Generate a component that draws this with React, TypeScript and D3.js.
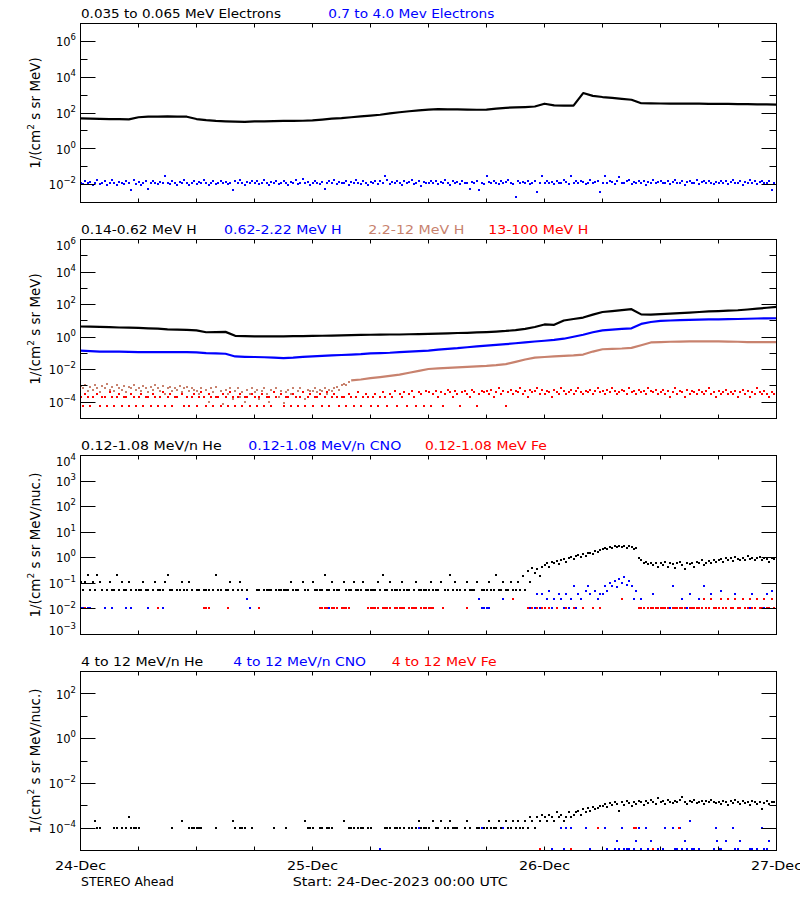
import React from "react";
import * as d3 from "d3";

const _ = null;

// ---------- time grids (hours since 24-Dec-2023 00:00 UTC) ----------
const HOURLY = d3.range(0, 73);
const QUARTER = d3.range(0, 289).map((i) => i / 4);

// ---------- text ----------
const DAY_LABELS = ["24-Dec", "25-Dec", "26-Dec", "27-Dec"];
const DAY_HOURS = [0, 24, 48, 72];
const FOOT_LEFT = "STEREO Ahead";
const FOOT_START = "Start: 24-Dec-2023 00:00 UTC";
const YTITLE_MEV = "MeV)";
const YTITLE_NUC = "MeV/nuc.)";
const P1_TITLES = ["0.035 to 0.065 MeV Electrons", "0.7 to 4.0 Mev Electrons"];
const P2_TITLES = ["0.14-0.62 MeV H", "0.62-2.22 MeV H", "2.2-12 MeV H", "13-100 MeV H"];
const P3_TITLES = ["0.12-1.08 MeV/n He", "0.12-1.08 MeV/n CNO", "0.12-1.08 MeV Fe"];
const P4_TITLES = ["4 to 12 MeV/n He", "4 to 12 MeV/n CNO", "4 to 12 MeV Fe"];

// ---------- panel 1: electrons ----------
const E_LOW = [
  50, 48, 47, 46, 45, 44, 58, 62, 63, 64, 62, 62,
  46, 40, 36, 34, 33, 32, 34, 34, 35, 36, 36, 37,
  39, 43, 48, 52, 58, 65, 72, 80, 95, 110, 125, 140,
  155, 165, 160, 158, 155, 152, 155, 175, 195, 205, 215, 230,
  330, 265, 260, 258, 1300, 900, 780, 700, 620, 550, 350, 345,
  340, 335, 330, 330, 330, 325, 325, 320, 315, 310, 305, 300,
  295,
];
const E_HIGH = [
  .013,.011,.016,.012,.014,.010,.012,.018,.011,.013,.015,.010,.012,.017,.013,.009,.014,.012,.011,.016,.013,.005,.019,.011,
  .014,.010,.013,.015,.006,.012,.016,.013,.011,.014,.012,.030,.013,.011,.015,.012,.009,.014,.013,.017,.012,.010,.013,.015,
  .011,.014,.012,.018,.013,.009,.012,.015,.011,.013,.016,.012,.014,.011,.013,.005,.015,.012,.017,.013,.010,.014,.012,.016,
  .012,.015,.011,.013,.019,.012,.010,.014,.013,.016,.011,.013,.015,.012,.009,.014,.013,.017,.011,.013,.020,.012,.014,.010,
  .013,.016,.012,.011,.014,.006,.013,.015,.012,.018,.011,.014,.012,.013,.016,.010,.014,.012,.017,.013,.011,.015,.012,.009,
  .014,.013,.016,.011,.015,.012,.030,.019,.011,.014,.012,.016,.013,.010,.015,.012,.014,.017,.011,.013,.015,.008,.014,.012,
  .013,.015,.012,.016,.011,.014,.013,.017,.012,.010,.015,.013,.014,.011,.016,.012,.013,.006,.014,.012,.015,.005,.013,.011,
  .030,.014,.012,.016,.013,.011,.015,.012,.014,.017,.013,.011,.002,.015,.012,.014,.013,.016,.011,.013,.015,.004,.012,.029,
  .013,.016,.012,.014,.011,.015,.013,.012,.017,.014,.011,.030,.013,.015,.012,.016,.014,.011,.013,.018,.012,.014,.016,.004,
  .013,.029,.012,.015,.014,.011,.016,.028,.013,.012,.015,.017,.011,.014,.013,.016,.012,.015,.010,.014,.013,.017,.012,.014,
  .015,.012,.013,.016,.011,.014,.018,.012,.013,.015,.010,.014,.016,.012,.013,.017,.011,.014,.015,.012,.016,.013,.011,.014,
  .012,.016,.013,.015,.011,.014,.017,.012,.013,.016,.010,.014,.013,.018,.012,.015,.011,.014,.016,.013,.012,.015,.005,.013,
  .014,
];

// ---------- panel 2: protons ----------
const H_LOW = [
  4.5, 4.4, 4.3, 4.1, 3.9, 3.8, 3.7, 3.5, 3.3, 3.0, 2.9, 2.8,
  2.6, 2.0, 2.05, 2.1, 1.2, 1.15, 1.12, 1.1, 1.1, 1.12, 1.15, 1.15,
  1.2, 1.22, 1.25, 1.3, 1.32, 1.38, 1.4, 1.43, 1.45, 1.45, 1.5, 1.55,
  1.6, 1.65, 1.7, 1.8, 1.85, 1.95, 2.05, 2.2, 2.4, 2.7, 3.2, 4.2,
  6, 5.7, 10.5, 13, 16, 24, 35, 40, 46, 52, 25, 24,
  26, 28, 30, 32, 35, 38, 40, 42, 45, 50, 56, 64,
  72,
];
const H_MID = [
  0.15, 0.14, 0.13, 0.13, 0.13, 0.125, 0.12, 0.12, 0.12, 0.12, 0.12, 0.12,
  0.115, 0.105, 0.1, 0.095, 0.065, 0.062, 0.06, 0.058, 0.055, 0.052, 0.055, 0.062,
  0.066, 0.07, 0.075, 0.08, 0.085, 0.09, 0.1, 0.105, 0.11, 0.12, 0.13, 0.14,
  0.15, 0.17, 0.19, 0.21, 0.24, 0.27, 0.3, 0.33, 0.37, 0.42, 0.48, 0.54,
  0.6, 0.68, 0.8, 1.05, 1.4, 2.0, 2.6, 2.9, 3.2, 3.5, 6.5, 8.5,
  10, 10.5, 11, 11.5, 12, 12.2, 12.5, 12.8, 13, 13.5, 14, 14.2,
  14.5,
];
const H_HIGH_LINE = [
  _, _, _, _, _, _, _, _, _, _, _, _,
  _, _, _, _, _, _, _, _, _, _, _, _,
  _, _, _, _, 2.2e-3, 2.5e-3, 3e-3, 3.5e-3, 4.2e-3, 5e-3, 6.5e-3, 8.5e-3,
  .011, .012, .013, .014, .015, .016, .017, .019, .022, .03, .042, .055,
  .06, .065, .07, .075, .085, .13, .18, .19, .2, .22, .32, .47,
  .5, .52, .53, .55, .55, .55, .55, .53, .52, .5, .5, .5,
  .5,
];
const H_HIGH_DOTS = [
  1e-3,7e-4,1.2e-3,5e-4,9e-4,6e-4,1.1e-3,8e-4,4e-4,1e-3,7e-4,1.3e-3,6e-4,9e-4,5e-4,1.1e-3,8e-4,6e-4,1e-3,4e-4,9e-4,7e-4,1.2e-3,6e-4,
  8e-4,5e-4,1e-3,7e-4,4e-4,9e-4,6e-4,1.1e-3,8e-4,5e-4,1e-3,3e-4,7e-4,9e-4,5e-4,8e-4,6e-4,1e-3,4e-4,7e-4,9e-4,5e-4,8e-4,6e-4,
  5e-4,3e-4,8e-4,2e-4,6e-4,1e-4,7e-4,4e-4,9e-4,2e-4,5e-4,8e-5,6e-4,3e-4,8e-4,1.5e-4,5e-4,7e-4,2e-4,4e-4,1e-4,6e-4,3e-4,8e-4,
  4e-4,6e-4,1.5e-4,5e-4,8e-4,3e-4,1e-4,6e-4,4e-4,7e-4,2e-4,5e-4,9e-5,4e-4,6e-4,3e-4,8e-4,2e-4,5e-4,7e-4,4e-4,1.5e-4,6e-4,5e-4,
  5e-4,7e-4,4e-4,6e-4,5e-4,8e-4,3e-4,6e-4,5e-4,7e-4,9e-4,6e-4,1.1e-3,1.4e-3,1.2e-3,1.8e-3,
];
const H_VHIGH = [
  2e-4,6e-5,3e-4,2e-4,6e-5,2e-4,_,3e-4,6e-5,2e-4,2e-4,6e-5,4e-4,2e-4,6e-5,2e-4,3e-4,6e-5,2e-4,2e-4,6e-5,3e-4,2e-4,6e-5,
  2e-4,3e-4,6e-5,2e-4,2e-4,6e-5,3e-4,2e-4,6e-5,2e-4,4e-4,6e-5,2e-4,3e-4,6e-5,2e-4,2e-4,_,3e-4,6e-5,2e-4,6e-5,2e-4,3e-4,
  6e-5,2e-4,4e-4,2e-4,6e-5,3e-4,2e-4,6e-5,2e-4,2e-4,6e-5,3e-4,2e-4,6e-5,4e-4,2e-4,6e-5,2e-4,3e-4,6e-5,2e-4,2e-4,6e-5,3e-4,
  2e-4,6e-5,2e-4,3e-4,6e-5,2e-4,2e-4,6e-5,4e-4,2e-4,_,3e-4,6e-5,2e-4,2e-4,6e-5,3e-4,2e-4,6e-5,2e-4,4e-4,6e-5,2e-4,3e-4,
  6e-5,2e-4,2e-4,3e-4,6e-5,2e-4,4e-4,6e-5,2e-4,3e-4,2e-4,6e-5,2e-4,2e-4,6e-5,3e-4,2e-4,6e-5,2e-4,4e-4,6e-5,2e-4,3e-4,2e-4,
  6e-5,2e-4,3e-4,6e-5,2e-4,4e-4,2e-4,6e-5,3e-4,2e-4,5e-4,6e-5,3e-4,2e-4,4e-4,6e-5,3e-4,5e-4,2e-4,6e-5,4e-4,3e-4,6e-5,5e-4,
  4e-4,6e-5,3e-4,5e-4,2e-4,4e-4,6e-5,3e-4,6e-4,4e-4,2e-4,5e-4,3e-4,6e-5,4e-4,5e-4,3e-4,2e-4,6e-4,4e-4,6e-5,3e-4,5e-4,4e-4,
  5e-4,3e-4,6e-4,2e-4,4e-4,7e-4,3e-4,5e-4,6e-5,4e-4,6e-4,3e-4,5e-4,4e-4,7e-4,3e-4,5e-4,2e-4,6e-4,4e-4,5e-4,8e-4,3e-4,6e-4,
  3e-4,5e-4,4e-4,2e-4,6e-4,4e-4,3e-4,7e-4,5e-4,3e-4,4e-4,6e-4,3e-4,5e-4,7e-4,4e-4,3e-4,5e-4,4e-4,6e-4,3e-4,5e-4,7e-4,4e-4,
  5e-4,3e-4,6e-4,4e-4,7e-4,5e-4,3e-4,4e-4,6e-4,5e-4,3e-4,7e-4,4e-4,5e-4,3e-4,6e-4,4e-4,5e-4,3e-4,7e-4,5e-4,4e-4,6e-4,3e-4,
  4e-4,6e-4,3e-4,5e-4,2e-4,4e-4,7e-4,3e-4,5e-4,4e-4,2e-4,6e-4,3e-4,5e-4,4e-4,3e-4,6e-4,4e-4,3e-4,5e-4,7e-4,3e-4,4e-4,2e-4,
  5e-4,3e-4,4e-4,6e-4,3e-4,4e-4,3e-4,5e-4,2e-4,4e-4,6e-4,3e-4,5e-4,2e-4,4e-4,3e-4,7e-4,4e-4,3e-4,5e-4,3e-4,2e-4,4e-4,3e-4,
  3e-4,
];

// ---------- panel 3: 0.12-1.08 MeV/n heavy ions ----------
const HE_LO = [
  .11,.054,.11,.22,.054,.11,.054,.22,.11,.054,_,.054,.11,.054,.054,.22,.054,.11,.054,.054,.11,.054,_,.054,
  .054,.054,.11,.054,.054,_,.054,.11,.054,.054,.054,.11,.22,.054,.054,_,.054,.054,.11,.054,.054,.11,.054,_,
  .054,.054,_,.054,.054,.054,_,.054,.22,.054,.054,_,.054,.054,.11,.054,_,.054,.11,.054,_,.054,_,_,
  _,.054,.054,_,.054,.054,.054,.054,_,.054,.054,.054,.054,.054,.054,.11,.054,.054,.054,_,.11,.054,.054,_,
  .11,.054,.054,.054,.054,.22,.054,.054,.11,.054,.054,.054,_,.11,.054,.054,.054,.11,.054,.054,.054,.11,.054,.054,
  .054,.054,.054,.11,.054,.22,.054,.054,.11,.054,.054,.054,.054,.11,.054,.054,.054,_,.054,.11,.054,.054,.054,.054,
  .054,.11,.054,.054,.054,.11,_,.054,.054,.22,.054,.11,.054,.054,_,.054,.11,.054,.054,.054,.11,_,.054,.054,
  .054,.11,.054,.054,.22,.054,.054,.11,.054,.054,.11,.054,.054,.11,.054,.19,.054,.3,.11,.4,.25,.35,.2,.45,
  .5,.65,.45,.7,.6,.75,.55,.8,.9,.7,1.0,1.1,.9,1.2,1.3,1.1,1.4,1.2,1.5,1.6,1.4,1.8,1.7,2.0,
  2.2,2.5,2.3,2.7,2.4,2.8,2.6,3.0,2.7,2.9,2.5,2.8,2.6,2.2,2.4,1.0,.8,.65,.7,.55,.6,.5,.62,.45,
  .6,.5,.7,.45,.65,.55,.4,.6,.7,.5,.35,.6,.55,.65,.45,.7,.6,.8,.5,.65,.75,.6,.85,.7,
  .8,.9,.7,1.0,.85,.95,.75,1.1,.9,.8,1.0,.85,1.2,.9,1.0,.8,.95,1.1,.85,1.0,.9,.7,1.0,.9,
  .85,
];
const CNO_LO = [
  .011,.011,.011,.011,.011,_,_,_,_,_,.011,_,_,.011,_,_,_,_,_,.011,_,.011,_,_,
  _,_,_,_,.011,_,_,_,_,_,.011,_,_,_,_,_,_,_,_,_,_,_,_,_,
  _,_,_,_,_,_,_,_,_,_,_,_,_,_,_,_,_,_,_,_,_,.024,.011,_,
  _,_,_,_,_,_,_,_,_,_,_,_,_,_,_,_,_,_,_,_,_,_,_,_,
  _,_,_,_,_,_,_,.011,.011,_,_,_,_,_,_,_,_,_,_,_,_,_,_,_,
  _,_,_,_,_,_,_,_,_,_,_,_,_,_,_,_,_,_,_,_,_,_,_,_,
  _,_,_,_,_,_,_,_,_,_,_,_,_,_,_,_,_,_,_,_,_,.024,.011,.011,
  .011,.011,_,_,_,_,_,.024,_,_,_,_,_,_,_,_,_,.011,.011,_,.011,.037,.011,.037,
  .011,.024,.05,.011,.024,.011,.037,.024,.011,.037,.011,.024,.08,.011,.037,.024,.011,.05,.08,.037,.011,.05,.024,.037,
  .037,.08,.05,.1,.08,.12,.07,.15,.1,.17,.09,.12,.08,.024,.05,.011,.024,.011,_,.011,.011,.037,.011,.011,
  .011,.011,.011,_,.011,.08,.011,.011,.011,.024,.011,.011,.037,.011,.011,.011,.024,.011,.08,.011,.011,.037,.011,.011,
  .011,.05,.011,.011,.024,.011,.011,.037,.011,.011,.024,.011,.011,.011,.037,.011,.024,.011,.011,.011,.037,.011,.05,.011,
  .011,
];
const FE_LO = [
  _,_,.011,_,_,_,_,_,_,_,_,_,_,_,_,_,_,_,_,_,_,_,_,_,
  _,_,_,_,_,_,_,_,.011,_,_,_,_,_,_,_,_,_,_,_,_,_,_,_,
  _,_,_,.011,.011,.011,_,_,_,_,_,_,_,.011,_,_,_,_,_,_,_,_,_,_,
  _,_,.011,_,_,_,_,_,_,_,_,_,_,_,_,_,_,_,_,_,_,_,_,_,
  _,_,_,.011,.011,.011,.011,_,.011,.011,.011,_,.011,.011,.011,.011,_,_,_,_,_,_,_,.011,
  .011,.011,.011,.011,_,.011,.011,.011,.011,_,.011,.011,.011,.011,.011,_,.011,.011,.011,.011,_,.011,.011,.011,
  .011,.011,.011,_,_,_,.011,_,_,_,_,_,_,_,_,_,.011,_,_,_,_,_,_,_,
  _,_,_,_,_,_,_,_,_,_,_,.024,_,_,_,_,_,.011,_,.011,_,.011,_,.011,
  .011,_,.011,_,_,.011,_,_,_,.011,_,_,.011,_,_,_,.011,_,_,_,.011,_,_,.011,
  _,_,_,_,_,_,_,_,.024,_,_,_,_,_,_,.011,.011,.011,_,.011,.011,.011,.011,.011,
  .011,.011,.011,.011,_,.011,.011,.011,.011,.011,.011,_,.011,.011,.011,.011,.011,.011,.024,.011,.011,.024,.011,.011,
  .011,.024,.011,.011,.024,.011,.011,.024,.011,.011,.024,.011,.011,.024,.011,.011,.024,.011,.011,.024,.011,.011,.024,.011,
  .011,
];

// ---------- panel 4: 4-12 MeV/n heavy ions ----------
const HE_HI = [
  _,_,_,_,_,_,2e-4,1e-4,1e-4,_,_,_,_,_,1e-4,1e-4,_,1e-4,_,1e-4,3e-4,1e-4,1e-4,1e-4,
  1e-4,_,_,_,_,_,_,_,_,_,_,_,_,_,1e-4,_,_,_,2e-4,_,_,1e-4,1e-4,1e-4,
  1e-4,1e-4,1e-4,_,_,_,_,_,1e-4,_,_,_,_,_,_,2e-4,1e-4,_,1e-4,1e-4,1e-4,_,_,1e-4,
  _,_,_,_,_,_,_,_,1e-4,_,_,_,_,1e-4,_,_,_,_,_,_,_,2e-4,1e-4,1e-4,
  1e-4,_,_,1e-4,1e-4,_,1e-4,1e-4,1e-4,_,_,_,_,2e-4,_,1e-4,1e-4,1e-4,_,1e-4,1e-4,1e-4,_,1e-4,
  1e-4,_,_,_,_,_,1e-4,1e-4,1e-4,_,1e-4,1e-4,1e-4,_,1e-4,_,1e-4,1e-4,_,1e-4,2e-4,1e-4,1e-4,1e-4,
  1e-4,_,2e-4,1e-4,1e-4,2e-4,_,1e-4,1e-4,2e-4,1e-4,1e-4,1e-4,_,_,1e-4,2e-4,1e-4,_,_,1e-4,1e-4,1e-4,1e-4,
  1e-4,2e-4,1e-4,1e-4,1e-4,2e-4,1e-4,1e-4,2e-4,1e-4,1e-4,2e-4,1e-4,2e-4,1e-4,1e-4,2e-4,1e-4,3e-4,2e-4,1e-4,3e-4,2e-4,4e-4,
  3e-4,2e-4,4e-4,3e-4,2e-4,5e-4,3e-4,4e-4,2e-4,3e-4,5e-4,3e-4,4e-4,5e-4,6e-4,4e-4,7e-4,5e-4,8e-4,6e-4,9e-4,7e-4,8e-4,1e-3,
  1e-3,1.2e-3,9e-4,1.3e-3,1.1e-3,1.5e-3,1.2e-3,6e-4,1.4e-3,1.1e-3,1.6e-3,1.3e-3,1e-3,1.5e-3,1.2e-3,1.7e-3,1.4e-3,1.1e-3,1.6e-3,1.3e-3,1.8e-3,1.5e-3,1.2e-3,2.2e-3,
  1.4e-3,1.6e-3,1.2e-3,1.8e-3,1.5e-3,1.3e-3,1.7e-3,1.4e-3,1.9e-3,2.4e-3,1.5e-3,1.2e-3,1.6e-3,1.4e-3,1.8e-3,1.3e-3,1.5e-3,1.7e-3,1.2e-3,1.6e-3,1.4e-3,1.9e-3,1.5e-3,1.3e-3,
  1.5e-3,1.2e-3,1.7e-3,1.4e-3,1.1e-3,1.6e-3,1.3e-3,1.8e-3,1.4e-3,1.2e-3,1.6e-3,1.3e-3,1.5e-3,1.1e-3,1.7e-3,1.4e-3,1.2e-3,1.5e-3,7e-4,1.3e-3,1.6e-3,1.2e-3,1.5e-3,1.4e-3,
  1.6e-3,
];
const CNO_HI_T = [31,35,41.5,43.75,48.75,49.75,50,50.25,50.75,52.25,52.75,54.25,54.5,55.25,55.5,55.75,56,56.25,56.5,56.75,57.25,57.5,57.75,58,58.5,58.75,59,59.25,59.75,60.25,60.5,61.25,61.5,61.75,62,62.25,62.5,62.75,63,63.25,63.5,64,65.5,65.75,65.8,66,66.25,66.75,67.5,67.75,68,68.25,69.25,69.5,70,70.5,70.75,71,71.25,72];
const CNO_HI_V = [1.2e-5,1e-4,1e-4,1e-4,1.2e-5,1e-4,1.2e-5,1e-4,1e-4,1e-4,1.2e-5,1e-4,1.2e-5,1.2e-5,2.6e-5,1.2e-5,1e-4,1.2e-5,1.2e-5,1.2e-5,1.2e-5,2.6e-5,1e-4,1.2e-5,1e-4,1.2e-5,2.6e-5,1.2e-5,1.2e-5,1.2e-5,1e-4,1e-4,1.2e-5,1.2e-5,1e-4,1.2e-5,2.6e-5,1.2e-5,2e-4,1.2e-5,1.2e-5,1.2e-5,1.2e-5,1e-4,2.6e-5,1.2e-5,1.2e-5,2.6e-5,1e-4,1.2e-5,1.2e-5,2.6e-5,1.2e-5,1.2e-5,1.2e-5,1e-4,1.2e-5,1.2e-5,2.6e-5,1e-4];
const FE_HI_T = [47.5, 50.75, 53.5, 57.25, 57.5, 59.25, 61.9];
const FE_HI_V = [1.2e-5, 1.2e-5, 1e-4, 1e-4, 1e-4, 1.2e-5, 1e-4];

// ---------- styling / layout ----------
const FONT = "'DejaVu Sans', 'Liberation Sans', sans-serif";
const BLACK = "#000000";
const BLUE = "#0000ff";
const RED = "#ff0000";
const BROWN = "#c8826e";
const X_LEFT = 80.5;
const X_RIGHT = 776.5;
const PANEL_TOPS = [23.5, 239.5, 455.5, 671.5];
const PANEL_H = 179;

type Series = { kind: "line" | "dots"; color: string; t: number[]; v: (number | null)[] };
type TitleSpec = { text: string; color: string; x: number; w: number };
type PanelSpec = {
  domain: [number, number];
  major: number[];
  minor: number[];
  labels: number[];
  unit: string;
  titles: TitleSpec[];
  series: Series[];
};

const PANELS: PanelSpec[] = [
  {
    domain: [1e-3, 1e7],
    major: [-2, 0, 2, 4, 6],
    minor: [-1, 1, 3, 5],
    labels: [-2, 0, 2, 4, 6],
    unit: YTITLE_MEV,
    titles: [
      { text: P1_TITLES[0], color: BLACK, x: 81, w: 200 },
      { text: P1_TITLES[1], color: BLUE, x: 328.3, w: 166 },
    ],
    series: [
      { kind: "line", color: BLACK, t: HOURLY, v: E_LOW },
      { kind: "dots", color: BLUE, t: QUARTER, v: E_HIGH },
    ],
  },
  {
    domain: [1e-5, 1e6],
    major: [-4, -2, 0, 2, 4],
    minor: [-3, -1, 1, 3, 5],
    labels: [-4, -2, 0, 2, 4, 6],
    unit: YTITLE_MEV,
    titles: [
      { text: P2_TITLES[0], color: BLACK, x: 81, w: 115.7 },
      { text: P2_TITLES[1], color: BLUE, x: 224, w: 117.7 },
      { text: P2_TITLES[2], color: BROWN, x: 368.3, w: 96 },
      { text: P2_TITLES[3], color: RED, x: 488.3, w: 100 },
    ],
    series: [
      { kind: "line", color: BLACK, t: HOURLY, v: H_LOW },
      { kind: "line", color: BLUE, t: HOURLY, v: H_MID },
      { kind: "line", color: BROWN, t: HOURLY, v: H_HIGH_LINE },
      { kind: "dots", color: BROWN, t: QUARTER, v: H_HIGH_DOTS },
      { kind: "dots", color: RED, t: QUARTER, v: H_VHIGH },
    ],
  },
  {
    domain: [1e-3, 1e4],
    major: [-2, -1, 0, 1, 2, 3],
    minor: [],
    labels: [-3, -2, -1, 0, 1, 2, 3, 4],
    unit: YTITLE_NUC,
    titles: [
      { text: P3_TITLES[0], color: BLACK, x: 81, w: 140.7 },
      { text: P3_TITLES[1], color: BLUE, x: 248.3, w: 153 },
      { text: P3_TITLES[2], color: RED, x: 425, w: 121.7 },
    ],
    series: [
      { kind: "dots", color: BLACK, t: QUARTER, v: HE_LO },
      { kind: "dots", color: BLUE, t: QUARTER, v: CNO_LO },
      { kind: "dots", color: RED, t: QUARTER, v: FE_LO },
    ],
  },
  {
    domain: [1e-5, 1e3],
    major: [-4, -2, 0, 2],
    minor: [-3, -1, 1],
    labels: [-4, -2, 0, 2],
    unit: YTITLE_NUC,
    titles: [
      { text: P4_TITLES[0], color: BLACK, x: 81, w: 122.3 },
      { text: P4_TITLES[1], color: BLUE, x: 233.3, w: 132.7 },
      { text: P4_TITLES[2], color: RED, x: 391.7, w: 105 },
    ],
    series: [
      { kind: "dots", color: BLACK, t: QUARTER, v: HE_HI },
      { kind: "dots", color: BLUE, t: CNO_HI_T, v: CNO_HI_V },
      { kind: "dots", color: RED, t: FE_HI_T, v: FE_HI_V },
    ],
  },
];

const fmtExp = (e: number) => (e < 0 ? "\u2212" + Math.abs(e) : String(e));
const snap = (v: number) => Math.round(v - 0.5) + 0.5;

function Panel({ spec, index }: { spec: PanelSpec; index: number }) {
  const top = PANEL_TOPS[index];
  const bottom = top + PANEL_H;
  const x = d3.scaleLinear().domain([0, 72]).range([X_LEFT, X_RIGHT]);
  const y = d3.scaleLog().domain(spec.domain).range([bottom, top]);
  const clipId = `clip-${index}`;
  const topExp = Math.log10(spec.domain[1]);
  const botExp = Math.log10(spec.domain[0]);
  const xTicks = d3.range(6, 72, 6);
  const mid = (top + bottom) / 2;

  return (
    <g>
      <defs>
        <clipPath id={clipId}>
          <rect x={X_LEFT} y={top} width={X_RIGHT - X_LEFT} height={PANEL_H} />
        </clipPath>
      </defs>
      {/* titles */}
      {spec.titles.map((tt, i) => (
        <text key={i} x={tt.x} y={top - 5.8} fill={tt.color} fontSize={12}
          textLength={tt.w} lengthAdjust="spacingAndGlyphs">{tt.text}</text>
      ))}
      {/* data */}
      <g clipPath={`url(#${clipId})`}>
        {spec.series.map((s, si) => {
          const pts = s.v.map((v, i) => [s.t[i], v] as [number, number | null]);
          if (s.kind === "line") {
            const gen = d3.line<[number, number | null]>()
              .defined((d) => d[1] != null && d[0] != null)
              .x((d) => x(d[0]))
              .y((d) => y(d[1] as number));
            return <path key={si} d={gen(pts) || ""} fill="none" stroke={s.color} strokeWidth={2.2} strokeLinejoin="round" />;
          }
          return (
            <g key={si} fill={s.color}>
              {pts.filter((d) => d[1] != null && d[0] != null).map((d, i) => (
                <rect key={i} x={Math.round(x(d[0])) - 1} y={Math.round(y(d[1] as number)) - 1} width={2} height={2} />
              ))}
            </g>
          );
        })}
      </g>
      {/* frame */}
      <rect x={X_LEFT} y={top} width={X_RIGHT - X_LEFT} height={PANEL_H} fill="none" stroke="#000" strokeWidth={1} />
      {/* y ticks */}
      {spec.major.map((e) => {
        const yy = snap(y(Math.pow(10, e)));
        return (
          <g key={"M" + e} stroke="#000" strokeWidth={1}>
            <line x1={X_LEFT} x2={X_LEFT + 15} y1={yy} y2={yy} />
            <line x1={X_RIGHT - 15} x2={X_RIGHT} y1={yy} y2={yy} />
          </g>
        );
      })}
      {spec.minor.map((e) => {
        const yy = snap(y(Math.pow(10, e)));
        return (
          <g key={"m" + e} stroke="#000" strokeWidth={1}>
            <line x1={X_LEFT} x2={X_LEFT + 7} y1={yy} y2={yy} />
            <line x1={X_RIGHT - 7} x2={X_RIGHT} y1={yy} y2={yy} />
          </g>
        );
      })}
      {/* x ticks */}
      {xTicks.map((h) => {
        const xx = snap(x(h));
        return (
          <g key={"x" + h} stroke="#000" strokeWidth={1}>
            <line x1={xx} x2={xx} y1={bottom} y2={bottom - 4} />
            <line x1={xx} x2={xx} y1={top} y2={top + 4} />
          </g>
        );
      })}
      {/* y tick labels */}
      {spec.labels.map((e) => {
        let base = y(Math.pow(10, e)) + 4.7;
        if (Math.abs(e - topExp) < 1e-6) base = top + 10;
        if (Math.abs(e - botExp) < 1e-6) base = bottom;
        return (
          <text key={"l" + e} x={76} y={base} fontSize={11.5} textAnchor="end" fill="#000">
            10<tspan dy={-6} fontSize={8.5}>{fmtExp(e)}</tspan>
          </text>
        );
      })}
      {/* y title */}
      <text transform={`translate(40,${mid}) rotate(-90)`} textAnchor="middle" fontSize={13.5} fill="#000">
        1/(cm<tspan dy={-6} fontSize={9}>2</tspan><tspan dy={6}>{" s sr " + spec.unit}</tspan>
      </text>
    </g>
  );
}

export default function App() {
  const x = d3.scaleLinear().domain([0, 72]).range([X_LEFT, X_RIGHT]);
  return (
    <svg width={800} height={900} fontFamily={FONT}
      style={{ position: "absolute", left: 0, top: 0, display: "block" }}>
      <rect x={0} y={0} width={800} height={900} fill="#ffffff" />
      {PANELS.map((p, i) => (
        <Panel key={i} spec={p} index={i} />
      ))}
      {DAY_LABELS.map((d, i) => (
        <text key={d} x={x(DAY_HOURS[i])} y={869.5} fontSize={12} textAnchor="middle"
          textLength={51} lengthAdjust="spacingAndGlyphs" fill="#000">{d}</text>
      ))}
      <text x={81} y={885.5} fontSize={12} textLength={93} lengthAdjust="spacingAndGlyphs" fill="#000">{FOOT_LEFT}</text>
      <text x={292.7} y={885.5} fontSize={12} textLength={215} lengthAdjust="spacingAndGlyphs" fill="#000">{FOOT_START}</text>
    </svg>
  );
}
